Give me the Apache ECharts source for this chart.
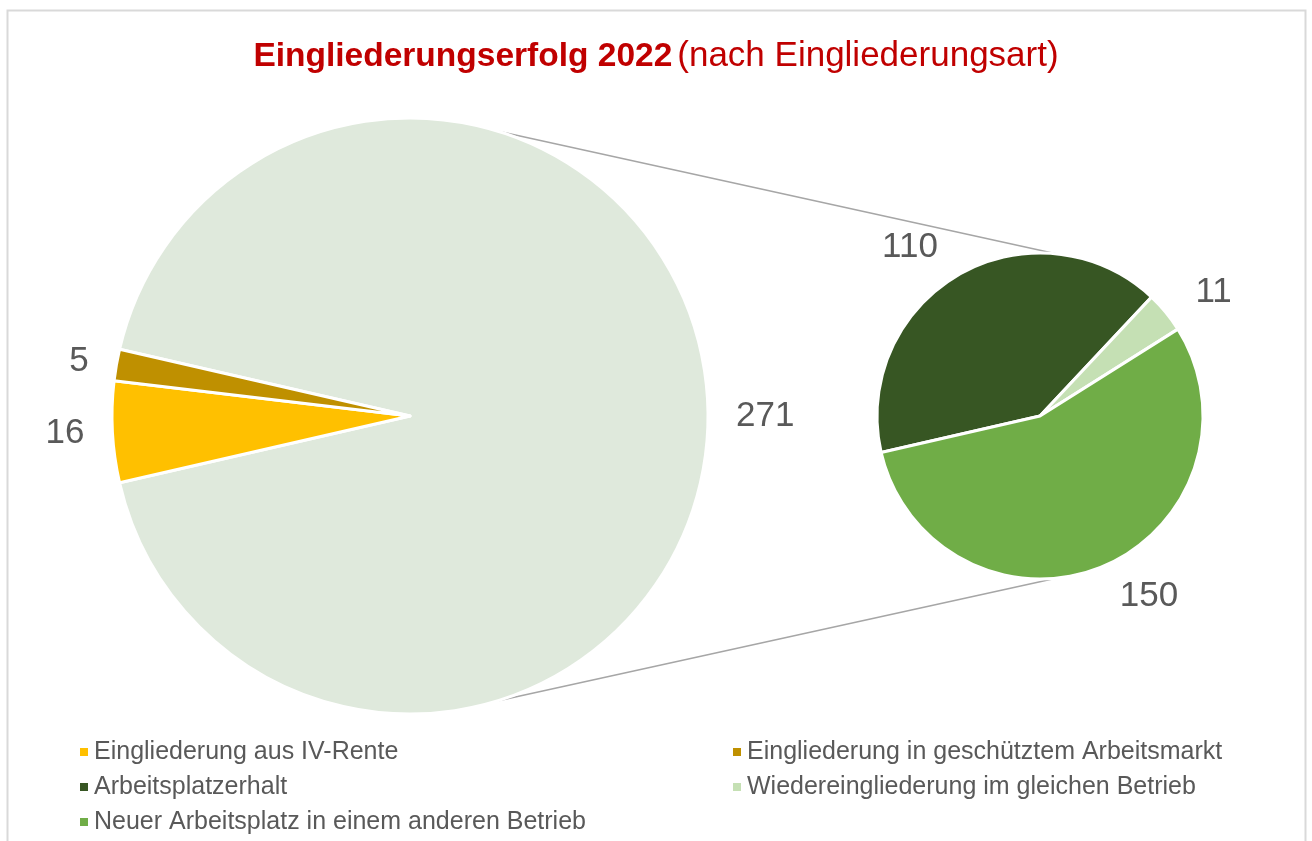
<!DOCTYPE html>
<html>
<head>
    <meta charset="utf-8">
    <title>Eingliederungserfolg 2022</title>
    <style>
        * {
            margin: 0;
            padding: 0;
        }
        #chart-container {
            width: 1312px;
            height: 841px;
            background: #fff;
        }
    </style>
</head>
<body>
<div id="chart-container"></div>
<script src="https://cdn.jsdelivr.net/npm/echarts@6.0.0/dist/echarts.min.js"></script>
<script>
    // main pie (the two small slices) and the split-off pie
    const mainNames = ['Eingliederung aus IV-Rente', 'Eingliederung in geschütztem Arbeitsmarkt'];
    const mainValues = [16, 5];
    const mainColors = ['#FFC000', '#BF9000'];

    const subNames = ['Arbeitsplatzerhalt', 'Wiedereingliederung im gleichen Betrieb', 'Neuer Arbeitsplatz in einem anderen Betrieb'];
    const subValues = [110, 11, 150];
    const subColors = ['#375623', '#C5E0B4', '#70AD47'];

    const otherName = 'Übrige';
    const otherColor = '#DFE9DC';

    const legendLeft = [mainNames[0], subNames[0], subNames[2]];
    const legendRight = [mainNames[1], subNames[1]];

    // sum of the split-off pie = aggregated slice in main pie
    let otherValue = 0;
    subValues.forEach(v => otherValue += v);
    let mainTotal = otherValue;
    mainValues.forEach(v => mainTotal += v);

    const mainCenter = [410, 416], mainR = 298;
    const subCenter = [1040, 416], subR = 163;

    const mainStart = 360 * otherValue / mainTotal / 2;
    const subStart = 360 - mainStart;

    const font = '"Liberation Sans", Arial, sans-serif';

    let mainData = [{name: otherName, value: otherValue, itemStyle: {color: otherColor}}];
    mainNames.forEach((n, i) => mainData.push({name: n, value: mainValues[i], itemStyle: {color: mainColors[i]}}));

    let subData = subNames.map((n, i) => ({name: n, value: subValues[i], itemStyle: {color: subColors[i]}}));

    function pt(c, r, deg) {
        let a = deg * Math.PI / 180;
        return [c[0] + r * Math.cos(a), c[1] - r * Math.sin(a)];
    }
    const a1 = 73, a2 = 84;
    const top1 = pt(mainCenter, mainR, a1), top2 = pt(subCenter, subR, a2);
    const bot1 = pt(mainCenter, mainR, -a1), bot2 = pt(subCenter, subR, -a2);

    var dom = document.getElementById('chart-container');
    var myChart = echarts.init(dom, null, {renderer: 'canvas'});

    const legendText = {
        fontFamily: font,
        fontSize: 25,
        color: '#595959',
        lineHeight: 28
    };

    var option = {
        animation: false,
        backgroundColor: '#fff',
        title: {
            text: '{b|Eingliederungserfolg 2022} {r|(nach Eingliederungsart)}',
            left: 'center',
            top: 34,
            textStyle: {
                rich: {
                    b: {fontFamily: font, fontWeight: 'bold', fontSize: 33.5, color: '#C00000'},
                    r: {fontFamily: font, fontWeight: 'normal', fontSize: 35, color: '#C00000'}
                }
            }
        },
        legend: [
            {
                data: legendLeft,
                orient: 'vertical',
                left: 78,
                top: 738,
                padding: 0,
                itemWidth: 10,
                itemHeight: 10,
                itemGap: 7,
                icon: 'rect',
                selectedMode: false,
                textStyle: legendText
            },
            {
                data: legendRight,
                orient: 'vertical',
                left: 731,
                top: 738,
                padding: 0,
                itemWidth: 10,
                itemHeight: 10,
                itemGap: 7,
                icon: 'rect',
                selectedMode: false,
                textStyle: legendText
            }
        ],
        graphic: [
            {
                type: 'rect',
                silent: true,
                z: -10,
                shape: {x: 7.5, y: 10.5, width: 1298, height: 850},
                style: {fill: 'none', stroke: '#D9D9D9', lineWidth: 2}
            },
            {
                type: 'line',
                silent: true,
                shape: {x1: top1[0], y1: top1[1], x2: top2[0], y2: top2[1]},
                style: {stroke: '#A6A6A6', lineWidth: 1.5}
            },
            {
                type: 'line',
                silent: true,
                shape: {x1: bot1[0], y1: bot1[1], x2: bot2[0], y2: bot2[1]},
                style: {stroke: '#A6A6A6', lineWidth: 1.5}
            }
        ],
        series: [
            {
                type: 'pie',
                center: mainCenter,
                radius: mainR,
                startAngle: mainStart,
                clockwise: true,
                avoidLabelOverlap: false,
                data: mainData,
                itemStyle: {borderColor: '#fff', borderWidth: 3},
                label: {
                    position: 'outside',
                    formatter: '{c}',
                    fontFamily: font,
                    fontSize: 35,
                    color: '#595959'
                },
                labelLine: {show: false, length: 20, length2: 3},
                emphasis: {disabled: true}
            },
            {
                type: 'pie',
                center: subCenter,
                radius: subR,
                startAngle: subStart,
                clockwise: true,
                avoidLabelOverlap: false,
                data: subData,
                itemStyle: {borderColor: '#fff', borderWidth: 3},
                label: {
                    position: 'outside',
                    formatter: '{c}',
                    fontFamily: font,
                    fontSize: 35,
                    color: '#595959'
                },
                labelLine: {show: false, length: 32, length2: 0},
                emphasis: {disabled: true}
            }
        ]
    };

    if (option && typeof option === 'object') {
        myChart.setOption(option);
    }
</script>
</body>
</html>
